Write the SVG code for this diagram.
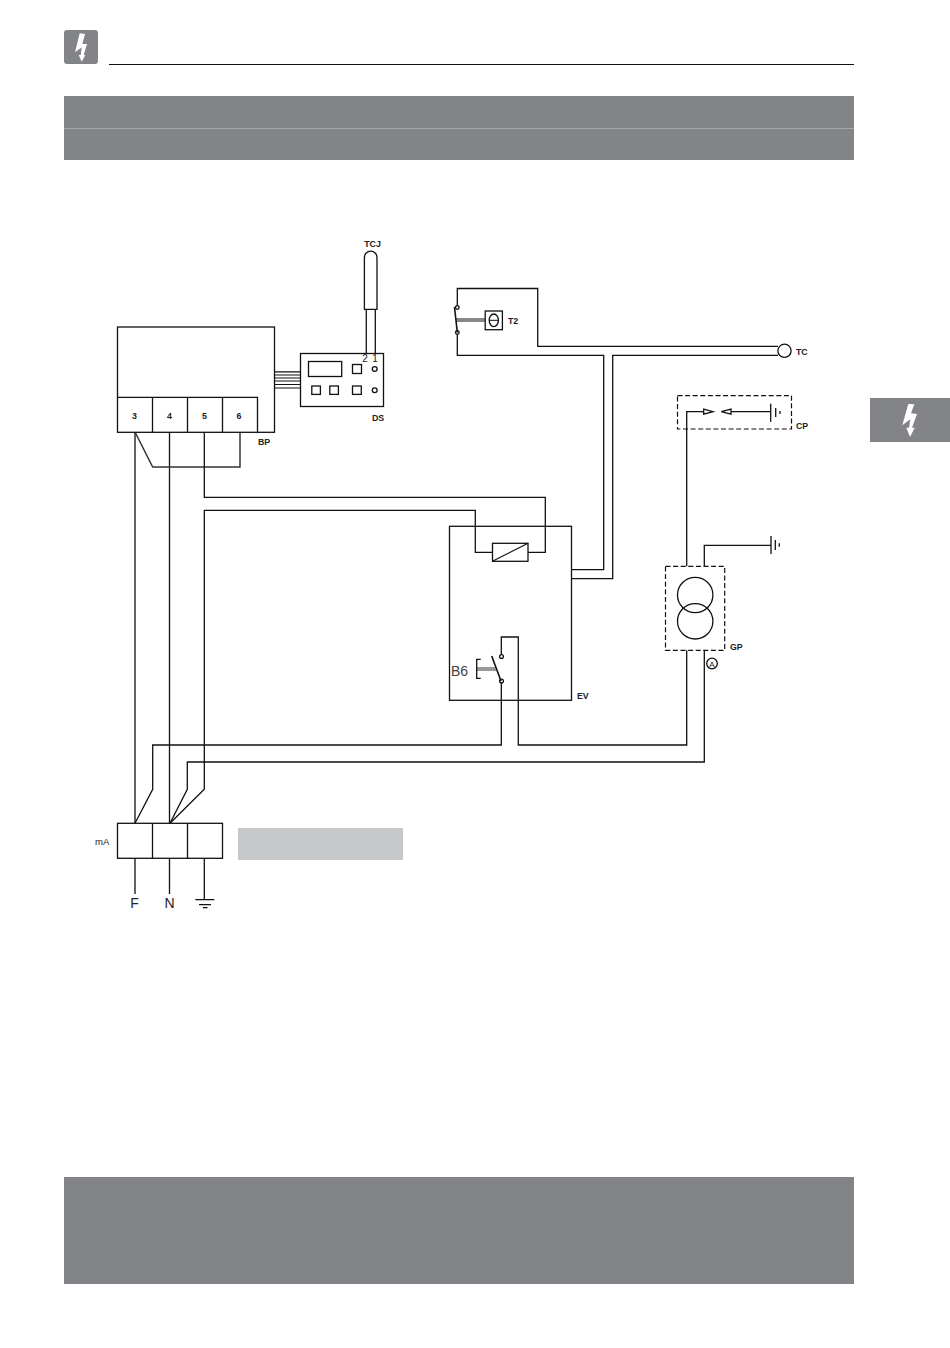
<svg xmlns="http://www.w3.org/2000/svg" width="950" height="1348" viewBox="0 0 950 1348">
<style>
.w{fill:none;stroke:#111;stroke-width:1.3}
.d{fill:none;stroke:#111;stroke-width:1.2;stroke-dasharray:5 2.6}
.f{fill:#fff;stroke:#111;stroke-width:1.3}
.b{fill:#838487}
.l{font-family:"Liberation Sans",Arial,sans-serif;font-size:8.8px;font-weight:700;fill:#222}
.r{font-family:"Liberation Sans",Arial,sans-serif;fill:#222}
.c{text-anchor:middle}
</style>
<rect width="950" height="1348" fill="#fff"/>
<g id="header">
<rect x="64" y="30" width="34" height="34" rx="3" class="b"/>
<polygon points="79.7,33.3 85,34 82.3,44 87,44 83.7,55 85.3,55 81.7,61.7 78.7,55 80.7,55 81.7,47.3 75,52.3" fill="#fff"/>
<line x1="109" y1="64.5" x2="854" y2="64.5" stroke="#111" stroke-width="1"/>
<rect x="64" y="96" width="790" height="64" class="b"/>
<line x1="64" y1="128.5" x2="854" y2="128.5" stroke="#a5a6a8" stroke-width="1"/>
</g>
<g id="side-tab">
<rect x="870" y="398" width="80" height="44" class="b"/>
<polygon points="908.3,404 914.3,404.3 911,413.3 917,414 912,427.7 914.7,427.7 910,437 906.3,427.7 909,427.7 910.3,419.3 902.3,425.3" fill="#fff"/>
</g>
<g id="footer"><rect x="64" y="1177" width="790" height="107" class="b"/></g>
<g id="note-box"><rect x="238" y="828" width="165" height="32" fill="#c6c7c9"/></g>
<g id="connectors">
<path class="w" d="M135 432V823.3M169.5 432V823.3"/>
<path d="M135 432L152.7 467H240V432" fill="none" stroke="#333" stroke-width="1.5"/>
<path class="w" d="M204.3 432V497.3H545.3V552.3H528"/>
<path class="w" d="M170 823.3L204.3 789.3V510.3H475.3V552.3H492.3"/>
<path class="w" d="M135 823.3L152.7 789.3V745H501.3V681"/>
<path class="w" d="M170 823.3L187.3 789.3V762H704.3V650.3"/>
<path class="w" d="M501.3 656V637H518.3V745H686.7V650.3"/>
<path class="w" d="M571.3 569.7H603.7V355.3H457.3V332.5"/>
<path class="w" d="M571.3 578.7H612.7V355.3H778"/>
<path class="w" d="M457.3 307V288.5H537.7V346.3H778"/>
<path class="w" d="M686.7 566.3V411.7H703.7"/>
<path class="w" d="M704.3 566.3V545.3H771"/>
<path class="w" d="M731 411.7H770.7"/>
<path class="w" d="M135 858.3V894M169.5 858.3V894M204.3 858.3V899.7"/>
<path class="w" d="M366.3 309V353.3M375.3 309V353.3"/>
<path d="M274.5 371.8H300.3M274.5 375H300.3M274.5 378H300.3M274.5 381H300.3M274.5 384.5H300.3M274.5 388H300.3" fill="none" stroke="#111" stroke-width="1.2"/>
</g>
<g id="BP">
<rect x="117.5" y="327" width="157" height="105.3" class="w"/>
<path class="w" d="M117.5 397.3H257.5V432.3M152.5 397.3V432.3M187.5 397.3V432.3M222.5 397.3V432.3"/>
<text x="134.5" y="419" class="l c">3</text><text x="169.5" y="419" class="l c">4</text><text x="204.5" y="419" class="l c">5</text><text x="239" y="419" class="l c">6</text>
<text x="258" y="445" class="l">BP</text>
</g>
<g id="DS">
<rect x="300.5" y="353.5" width="83" height="53" class="f"/>
<rect x="308.5" y="361.5" width="33.2" height="15" class="w"/>
<rect x="352.5" y="364.5" width="9" height="9" class="w"/>
<rect x="311.8" y="386" width="8.6" height="8.4" class="w"/><rect x="329.8" y="386" width="8.6" height="8.4" class="w"/><rect x="352.5" y="386" width="8.8" height="8.4" class="w"/>
<circle cx="374.7" cy="369" r="2.4" class="w"/><circle cx="374.7" cy="390.3" r="2.4" class="w"/>
<text x="365" y="361.5" class="r c" font-size="10">2</text><text x="375" y="361.5" class="r c" font-size="10">1</text>
<text x="372" y="421" class="l">DS</text>
</g>
<g id="TCJ">
<path class="w" d="M364.4 309.3V257.5a6.3 6.3 0 0 1 12.6 0V309.3Z"/>
<text x="372.5" y="246.5" class="l c">TCJ</text>
</g>
<g id="T2">
<circle cx="457.3" cy="307.5" r="1.8" class="f"/><circle cx="457.3" cy="332.5" r="1.8" class="f"/>
<path d="M454.5 307L457.3 332.5" fill="none" stroke="#111" stroke-width="1.6"/>
<path d="M456 319H485M456 321H485" fill="none" stroke="#111" stroke-width="1"/>
<rect x="485.2" y="311" width="17.2" height="18.7" class="w"/>
<ellipse cx="493.8" cy="320.3" rx="4.6" ry="6.3" class="w"/><line x1="489.2" y1="320.3" x2="498.4" y2="320.3" stroke="#111"/>
<text x="508" y="324" class="l">T2</text>
</g>
<g id="TC"><circle cx="784.5" cy="350.8" r="6.6" class="f"/><text x="796" y="354.5" class="l">TC</text></g>
<g id="CP">
<rect x="677.5" y="395.7" width="114" height="33.3" class="d"/>
<polygon points="703.7,409.2 703.7,414.2 713,411.7" class="f"/><polygon points="731,409.2 731,414.2 721.3,411.7" class="f"/>
<path class="w" d="M770.7 403.7V421.7M775.7 408V417M780 411V414"/>
<text x="796" y="429" class="l">CP</text>
</g>
<g id="GP">
<rect x="665.5" y="566.3" width="59.2" height="84" class="d"/>
<circle cx="695.2" cy="595" r="17.7" class="w"/><circle cx="695.2" cy="621.3" r="17.7" class="w"/>
<path class="w" d="M771 536V554M775.3 540V550M779.3 543.3V546.7"/>
<text x="730" y="650" class="l">GP</text>
<circle cx="712" cy="663.5" r="5.3" class="w"/><text x="712" y="666.5" class="r c" font-size="8">A</text>
</g>
<g id="EV">
<rect x="449.5" y="526.3" width="122" height="174" class="w"/>
<rect x="492.5" y="543.3" width="35.5" height="18" class="f"/><line x1="492.5" y1="561.3" x2="528" y2="543.3" stroke="#111" stroke-width="1.2"/>
<circle cx="501.5" cy="656.5" r="1.9" class="f"/><circle cx="501.5" cy="681" r="1.9" class="f"/>
<path d="M491.7 656L501 681" fill="none" stroke="#111" stroke-width="1.6"/>
<path class="w" d="M480.7 659.3H476.7V678.3H480.7"/>
<path d="M476.7 668H495.5M476.7 670H496" fill="none" stroke="#333" stroke-width="1"/>
<text x="451" y="676" class="r" font-size="14" style="fill:#444">B6</text>
<text x="577" y="699" class="l">EV</text>
</g>
<g id="mA">
<rect x="117.5" y="823.3" width="105" height="35" class="f"/>
<path class="w" d="M152.5 823.3V858.3M187.5 823.3V858.3"/>
<text x="95" y="845" class="r" font-size="9.5">mA</text>
<text x="134.5" y="908" class="r c" font-size="14">F</text><text x="169.5" y="908" class="r c" font-size="14">N</text>
<path class="w" d="M195.3 899.7H214.3M199 904.7H211M203 907.7H207.5"/>
</g>
</svg>
